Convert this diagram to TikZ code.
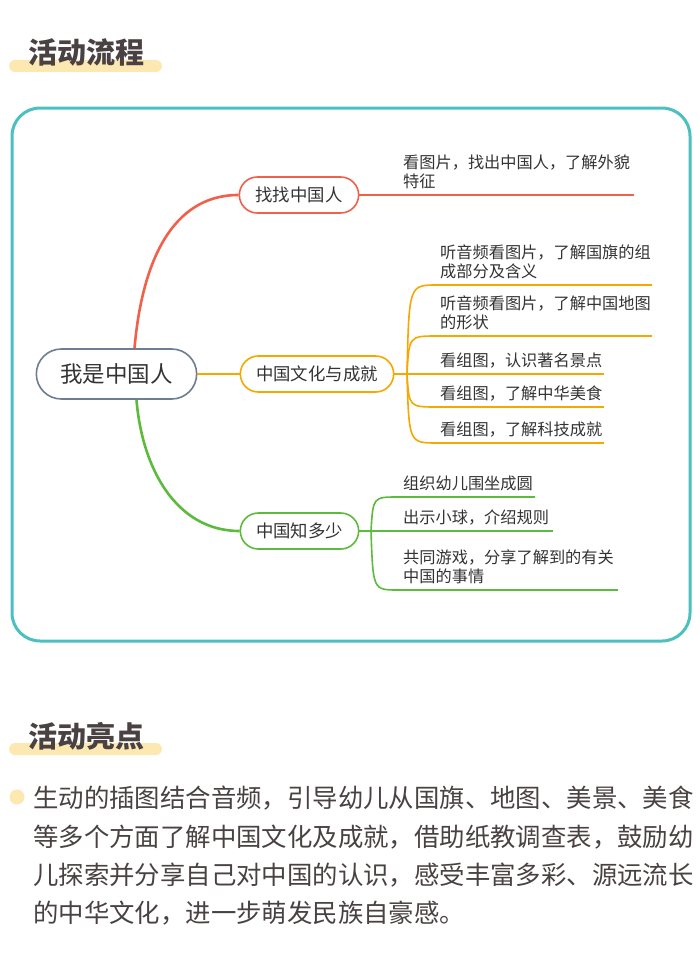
\documentclass[tikz,border=0pt]{standalone}
\usepackage{fontspec}
\setmainfont{Noto Sans CJK SC}
\usetikzlibrary{shapes.misc}

\definecolor{framecol}{HTML}{4CBFC1}
\definecolor{titlecol}{HTML}{4A4242}
\definecolor{barcol}{HTML}{FDE8B2}
\definecolor{redcol}{HTML}{F0604A}
\definecolor{orgcol}{HTML}{F5A800}
\definecolor{grncol}{HTML}{5CBB3C}
\definecolor{rootcol}{HTML}{707C92}
\definecolor{txtcol}{HTML}{333333}

\begin{document}
\begin{tikzpicture}[x=1pt,y=-1pt,
    pill/.style={draw, rounded rectangle, line width=1.6pt, fill=white, text=txtcol,
      minimum height=36, font=\fontsize{17.4}{20}\selectfont},
    leaf/.style={anchor=south west, inner sep=0, align=left, text=txtcol,
      font=\fontsize{16.2}{19}\selectfont},
    heading/.style={anchor=west, inner sep=0, text=titlecol,
      font=\fontsize{29}{32}\selectfont\bfseries},
    para/.style={anchor=west, inner sep=0, text=titlecol,
      font=\fontsize{25.4}{28}\selectfont}]
    \useasboundingbox[fill=white] (0,0) rectangle (700,966);

    % section titles
    \fill[barcol, rounded corners=6] (9,60) rectangle (162,72);
    \node[heading] (t1) at (28,52) {活动流程};
    \fill[barcol, rounded corners=6] (9,743) rectangle (162,755);
    \node[heading] (t2) at (28,736) {活动亮点};

    % frame
    \draw[framecol, line width=3, rounded corners=28] (12,108) rectangle (690,641);

    % main nodes
    \node[pill, draw=rootcol, minimum width=167, minimum height=50,
      font=\fontsize{22.5}{26}\selectfont] (root) at (116.5,374) {我是中国人};
    \node[pill, draw=redcol, minimum width=126] (b1) at (299,195) {找找中国人};
    \node[pill, draw=orgcol, minimum width=160] (b2) at (317,374) {中国文化与成就};
    \node[pill, draw=grncol, minimum width=125] (b3) at (299.5,531) {中国知多少};

    % root to branches
    \coordinate (rt) at ([xshift=18]root.north);
    \coordinate (rb) at ([xshift=20]root.south);
    \draw[redcol, line width=2.6] (rt) .. controls (142,262) and (172,195) .. (b1.west);
    \draw[grncol, line width=2.6] (rb) .. controls (142,468) and (176,531) .. (b3.west);
    \draw[orgcol, line width=2.4] (root.east) -- (b2.west);

    % branch 1
    \coordinate (e1) at (634,195);
    \draw[redcol, line width=1.6] (b1.east) -- (e1);
    \node[leaf] (l1) at (403,189) {看图片，找出中国人，了解外貌\\特征};

    % branch 2
    \coordinate (j2) at (407,374);
    \draw[orgcol, line width=1.6] (b2.east) -- (j2) -- (604,374);
    \foreach \y/\xe/\n in {285/652/a, 336/652/b, 407/604/d, 443/604/e} {
      \coordinate (s\n) at (437,\y);
      \coordinate (t\n) at (\xe,\y);
      \draw[orgcol, line width=1.6] (j2) .. controls ([xshift=2]j2 |- s\n) .. (s\n) -- (t\n);
    }
    \node[leaf] (l2a) at (440,279) {听音频看图片，了解国旗的组\\成部分及含义};
    \node[leaf] (l2b) at (440,330) {听音频看图片，了解中国地图\\的形状};
    \node[leaf] (l2c) at (440,368) {看组图，认识著名景点};
    \node[leaf] (l2d) at (440,401) {看组图，了解中华美食};
    \node[leaf] (l2e) at (440,437) {看组图，了解科技成就};

    % branch 3
    \coordinate (j3) at (371,531);
    \draw[grncol, line width=1.6] (b3.east) -- (j3) -- (553,531);
    \foreach \y/\xe/\n in {497/535/f, 590/618/g} {
      \coordinate (s\n) at (398,\y);
      \coordinate (t\n) at (\xe,\y);
      \draw[grncol, line width=1.6] (j3) .. controls ([xshift=2]j3 |- s\n) .. (s\n) -- (t\n);
    }
    \node[leaf] (l3a) at (403,491) {组织幼儿围坐成圆};
    \node[leaf] (l3b) at (403,525) {出示小球，介绍规则};
    \node[leaf] (l3c) at (403,584) {共同游戏，分享了解到的有关\\中国的事情};

    % highlights
    \fill[barcol] (17,797) circle (7.5);
    \node[para] (p1) at (33,798) {生动的插图结合音频，引导幼儿从国旗、地图、美景、美食};
    \node[para] (p2) at (33,837) {等多个方面了解中国文化及成就，借助纸教调查表，鼓励幼};
    \node[para] (p3) at (33,875) {儿探索并分享自己对中国的认识，感受丰富多彩、源远流长};
    \node[para] (p4) at (33,913) {的中华文化，进一步萌发民族自豪感。};
\end{tikzpicture}
\end{document}
